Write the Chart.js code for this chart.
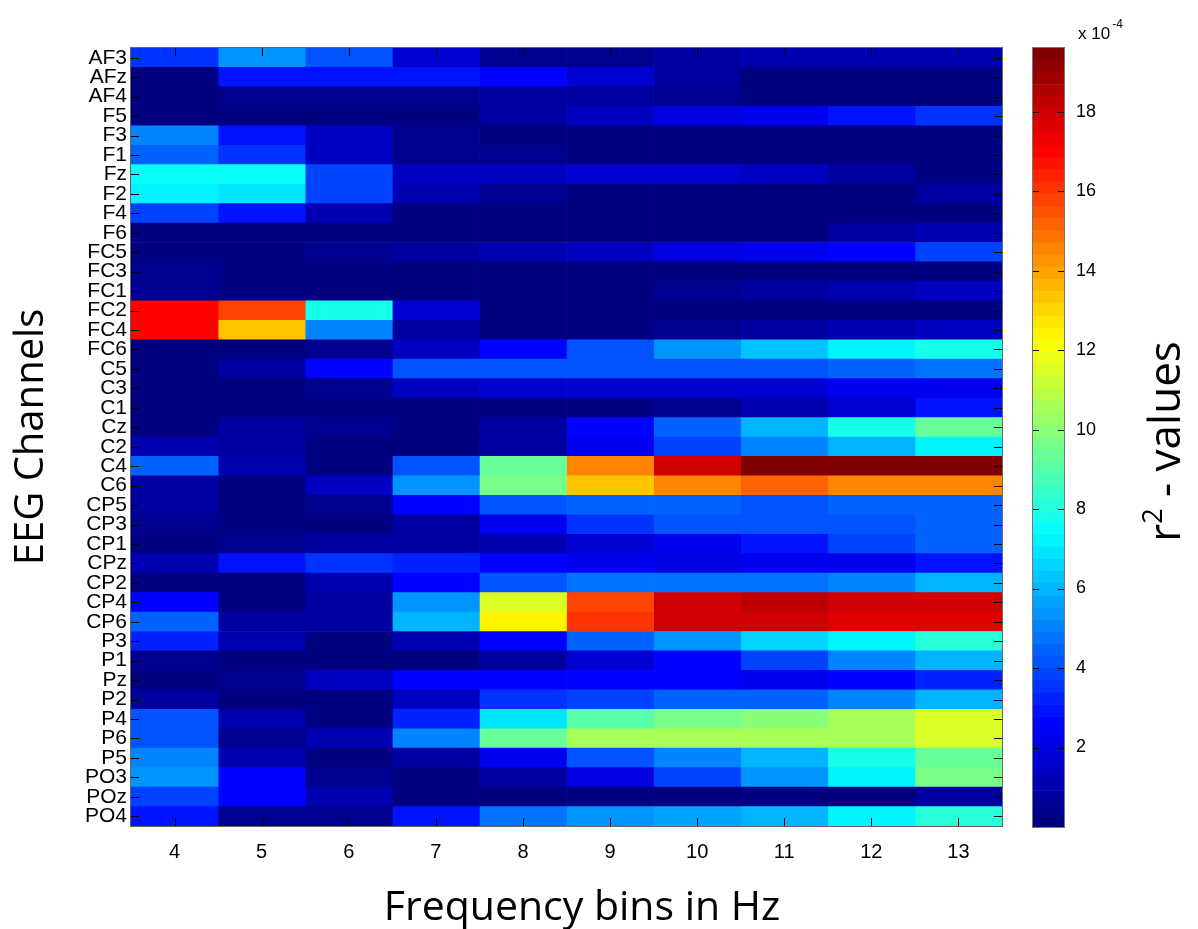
<!DOCTYPE html>
<html>
<head>
<meta charset="utf-8">
<script src="https://cdn.jsdelivr.net/npm/chart.js@4"></script>
<style>
  html, body { margin: 0; padding: 0; background: #fff; }
  #wrap { position: relative; width: 1198px; height: 929px; }
  #heatmap { position: absolute; left: 0; top: 0; }
  #colorbar { position: absolute; left: 1010px; top: 0; }
</style>
</head>
<body>
<div id="wrap">
  <canvas id="heatmap" width="1010" height="929"></canvas>
  <canvas id="colorbar" width="188" height="929"></canvas>
</div>
<script>
const channels = ['AF3', 'AFz', 'AF4', 'F5', 'F3', 'F1', 'Fz', 'F2', 'F4', 'F6',
  'FC5', 'FC3', 'FC1', 'FC2', 'FC4', 'FC6', 'C5', 'C3', 'C1', 'Cz',
  'C2', 'C4', 'C6', 'CP5', 'CP3', 'CP1', 'CPz', 'CP2', 'CP4', 'CP6',
  'P3', 'P1', 'Pz', 'P2', 'P4', 'P6', 'P5', 'PO3', 'POz', 'PO4'];
const freqBins = [4, 5, 6, 7, 8, 9, 10, 11, 12, 13];

// r^2 values (x 10^-4), one row per channel, one column per frequency bin
const r2Values = [
  [3.6, 5.3, 4.0, 1.6, 0.4, 0.4, 0.9, 1.1, 1.1, 1.0],   // AF3
  [0.2, 3.0, 3.0, 2.8, 2.6, 1.8, 0.9, 0.3, 0.3, 0.3],   // AFz
  [0.2, 0.6, 0.5, 0.5, 0.7, 0.7, 0.6, 0.2, 0.2, 0.2],   // AF4
  [0.2, 0.1, 0.1, 0.1, 0.8, 1.5, 2.0, 2.2, 2.8, 3.4],   // F5
  [4.9, 3.0, 1.5, 0.6, 0.2, 0.2, 0.2, 0.2, 0.2, 0.2],   // F3
  [4.5, 3.4, 1.4, 0.6, 0.5, 0.2, 0.2, 0.2, 0.2, 0.2],   // F1
  [7.6, 7.6, 3.7, 1.5, 1.5, 1.8, 1.8, 1.5, 0.7, 0.3],   // Fz
  [7.2, 6.9, 3.8, 1.2, 0.4, 0.2, 0.2, 0.2, 0.2, 0.7],   // F2
  [3.7, 2.9, 1.0, 0.15, 0.15, 0.15, 0.15, 0.15, 0.15, 0.15], // F4
  [0.1, 0.1, 0.1, 0.1, 0.1, 0.1, 0.1, 0.1, 0.7, 1.2],   // F6
  [0.1, 0.1, 0.4, 0.7, 1.0, 1.4, 1.9, 2.2, 2.6, 3.7],   // FC5
  [0.6, 0.15, 0.15, 0.15, 0.15, 0.15, 0.15, 0.15, 0.15, 0.15], // FC3
  [0.6, 0.2, 0.2, 0.2, 0.2, 0.2, 0.4, 0.7, 1.1, 1.5],   // FC1
  [16.9, 15.9, 7.95, 1.8, 0.1, 0.1, 0.1, 0.1, 0.1, 0.1], // FC2
  [16.9, 13.2, 4.9, 0.7, 0.15, 0.15, 0.4, 0.8, 1.2, 1.35], // FC4
  [0.15, 0.15, 0.6, 1.5, 2.75, 4.0, 5.5, 6.3, 7.1, 7.95], // FC6
  [0.15, 0.8, 2.75, 4.0, 4.0, 4.0, 4.0, 4.1, 4.45, 4.75], // C5
  [0.15, 0.15, 0.4, 1.4, 1.7, 1.7, 1.7, 1.8, 2.2, 2.2],  // C3
  [0.15, 0.15, 0.15, 0.15, 0.15, 0.15, 0.35, 1.0, 1.8, 3.0], // C1
  [0.15, 0.8, 0.6, 0.2, 0.7, 2.6, 4.45, 6.1, 7.8, 9.2],  // Cz
  [1.0, 0.8, 0.2, 0.2, 0.7, 2.2, 3.7, 4.9, 6.1, 7.2],    // C2
  [4.3, 1.0, 0.2, 4.1, 9.2, 14.4, 18.05, 19.5, 19.5, 19.5], // C4
  [0.8, 0.3, 1.5, 5.5, 9.5, 13.2, 14.7, 15.2, 14.7, 14.6], // C6
  [0.7, 0.3, 0.6, 2.75, 4.1, 4.45, 4.45, 4.1, 4.3, 4.45], // CP5
  [0.6, 0.25, 0.25, 0.8, 2.3, 3.5, 4.0, 4.0, 4.1, 4.3],  // CP3
  [0.3, 0.6, 0.7, 0.8, 1.1, 1.8, 2.3, 3.0, 3.7, 4.45],   // CP1
  [1.1, 2.9, 3.5, 3.2, 2.75, 2.3, 2.0, 2.3, 2.3, 3.0],   // CPz
  [0.3, 0.3, 1.0, 2.75, 4.1, 4.6, 4.6, 4.75, 5.2, 6.0],  // CP2
  [2.6, 0.3, 0.7, 5.5, 11.35, 15.9, 17.9, 18.1, 17.9, 17.9], // CP4
  [4.3, 0.8, 0.8, 6.1, 12.4, 16.2, 18.05, 17.9, 17.6, 17.75], // CP6
  [3.2, 1.0, 0.2, 1.0, 2.75, 4.45, 5.35, 6.45, 7.35, 8.2], // P3
  [0.6, 0.3, 0.3, 0.3, 0.7, 1.7, 2.75, 3.8, 5.2, 6.0],   // P1
  [0.3, 0.6, 1.5, 2.6, 2.6, 2.5, 2.5, 2.4, 2.5, 3.1],    // Pz
  [0.7, 0.3, 0.3, 1.5, 3.4, 3.8, 4.45, 4.45, 5.2, 6.1],  // P2
  [4.1, 1.0, 0.3, 3.2, 6.75, 8.9, 9.5, 10.0, 10.7, 11.6], // P4
  [4.1, 0.6, 1.0, 5.2, 9.2, 10.7, 10.7, 10.6, 10.7, 11.6], // P6
  [5.05, 1.1, 0.3, 0.8, 2.3, 4.0, 5.2, 6.1, 7.8, 9.2],   // P5
  [5.35, 2.75, 0.35, 0.25, 0.7, 2.0, 3.7, 5.35, 7.35, 9.5], // PO3
  [3.7, 2.75, 1.0, 0.2, 0.2, 0.2, 0.2, 0.2, 0.2, 0.8],   // POz
  [3.0, 0.35, 0.45, 3.0, 4.6, 5.5, 5.8, 6.1, 7.1, 8.2],  // PO4
];

const colorbarTicks = [2, 4, 6, 8, 10, 12, 14, 16, 18];
const cMin = 0;
const cMax = 19.6;
const nLevels = 64;

// matlab style jet colormap
function jet(t) {
  const c = (x) => Math.round(255 * Math.min(1, Math.max(0, x)));
  return 'rgb(' + c(1.5 - Math.abs(4 * t - 3)) + ',' + c(1.5 - Math.abs(4 * t - 2)) + ',' + c(1.5 - Math.abs(4 * t - 1)) + ')';
}

function levelColor(v) {
  let i = Math.floor(((v - cMin) / (cMax - cMin)) * nLevels);
  i = Math.max(0, Math.min(nLevels - 1, i));
  return jet(i / (nLevels - 1));
}

const TICK_LEN = 8;

const frameTicks = {
  id: 'frameTicks',
  afterDatasetsDraw(chart) {
    const { ctx, chartArea: a, scales } = chart;
    ctx.save();
    ctx.strokeStyle = '#000';
    ctx.lineWidth = 1;
    ctx.beginPath();
    scales.x.ticks.forEach((t) => {
      const x = Math.round(scales.x.getPixelForValue(t.value)) + 0.5;
      ctx.moveTo(x, a.top);
      ctx.lineTo(x, a.top + TICK_LEN);
      ctx.moveTo(x, a.bottom);
      ctx.lineTo(x, a.bottom - TICK_LEN);
    });
    channels.forEach((c, i) => {
      const y = Math.round(scales.y.getPixelForValue(i)) + 0.5;
      ctx.moveTo(a.left, y);
      ctx.lineTo(a.left + TICK_LEN, y);
      ctx.moveTo(a.right, y);
      ctx.lineTo(a.right - TICK_LEN, y);
    });
    ctx.stroke();
    ctx.strokeStyle = '#666';
    ctx.strokeRect(a.left - 0.5, a.top - 0.5, a.width + 1, a.height + 1);

    // x axis title, slightly right of the plot centre like the original
    ctx.fillStyle = '#000';
    ctx.font = '41px "Open Sans"';
    ctx.textAlign = 'center';
    ctx.textBaseline = 'alphabetic';
    ctx.fillText('Frequency bins in Hz', 582, 920);
    ctx.restore();
  },
};

const heatDatasets = freqBins.map((f, j) => ({
  data: channels.map(() => [f - 0.5, f + 0.5]),
  backgroundColor: channels.map((c, i) => levelColor(r2Values[i][j])),
  borderWidth: 0,
  barPercentage: 1,
  categoryPercentage: 1,
  grouped: false,
}));

const heatmapChart = new Chart(document.getElementById('heatmap'), {
  type: 'bar',
  data: { labels: channels, datasets: heatDatasets },
  options: {
    indexAxis: 'y',
    responsive: false,
    animation: false,
    layout: { padding: { top: 48, right: 8, left: 0, bottom: 0 } },
    plugins: { legend: { display: false }, tooltip: { enabled: false } },
    scales: {
      x: {
        type: 'linear',
        min: 3.5,
        max: 13.5,
        afterBuildTicks: (s) => {
          s.ticks = freqBins.map((v) => ({ value: v }));
        },
        grid: { display: false, drawTicks: false },
        border: { display: false },
        ticks: { padding: 14, color: '#000', font: { family: 'Liberation Sans', size: 20 } },
        afterFit: (s) => {
          s.height = 103;
        },
      },
      y: {
        type: 'category',
        grid: { display: false, drawTicks: false },
        border: { display: false },
        ticks: { padding: 4, autoSkip: false, color: '#000', font: { family: 'Liberation Sans', size: 21 } },
        title: {
          display: true,
          text: 'EEG Channels',
          color: '#000',
          font: { family: 'Open Sans', size: 40 },
          padding: { top: 8, bottom: 0 },
        },
        afterFit: (s) => {
          s.width = 131;
        },
      },
    },
  },
  plugins: [frameTicks],
});

// colorbar
const levelStep = (cMax - cMin) / nLevels;
const barDatasets = [];
for (let i = 0; i < nLevels; i++) {
  barDatasets.push({
    data: [[cMin + i * levelStep, cMin + (i + 1) * levelStep]],
    backgroundColor: jet(i / (nLevels - 1)),
    borderWidth: 0,
    barPercentage: 1,
    categoryPercentage: 1,
    grouped: false,
  });
}

const colorbarDecor = {
  id: 'colorbarDecor',
  afterDatasetsDraw(chart) {
    const { ctx, chartArea: a, scales } = chart;
    ctx.save();
    ctx.strokeStyle = '#000';
    ctx.lineWidth = 1;
    ctx.beginPath();
    scales.y.ticks.forEach((t) => {
      const y = Math.round(scales.y.getPixelForValue(t.value)) + 0.5;
      ctx.moveTo(a.left, y);
      ctx.lineTo(a.left + 6, y);
      ctx.moveTo(a.right, y);
      ctx.lineTo(a.right - 6, y);
    });
    ctx.stroke();
    ctx.strokeStyle = '#777';
    ctx.strokeRect(a.left - 0.5, a.top - 0.5, a.width + 1, a.height + 1);

    // exponent label
    ctx.fillStyle = '#000';
    ctx.textBaseline = 'alphabetic';
    ctx.font = '17px "Liberation Sans"';
    ctx.fillText('x 10', 68, 39);
    const w = ctx.measureText('x 10').width;
    ctx.font = '12px "Liberation Sans"';
    ctx.fillText('-4', 68 + w + 2, 28);

    // r^2 title, reads bottom to top
    ctx.translate(170, (a.top + a.bottom) / 2 + 4);
    ctx.rotate(-Math.PI / 2);
    ctx.font = '44px "Open Sans"';
    const wr = ctx.measureText('r').width;
    const wRest = ctx.measureText(' - values').width;
    ctx.font = '27px "Open Sans"';
    const w2 = ctx.measureText('2').width;
    let x = -(wr + w2 + wRest) / 2;
    ctx.font = '44px "Open Sans"';
    ctx.fillText('r', x, 0);
    x += wr;
    ctx.font = '27px "Open Sans"';
    ctx.fillText('2', x, -18);
    x += w2;
    ctx.font = '44px "Open Sans"';
    ctx.fillText(' - values', x, 0);
    ctx.restore();
  },
};

const colorbarChart = new Chart(document.getElementById('colorbar'), {
  type: 'bar',
  data: { labels: [''], datasets: barDatasets },
  options: {
    responsive: false,
    animation: false,
    layout: { padding: { top: 48, right: 0, left: 23, bottom: 102 } },
    plugins: { legend: { display: false }, tooltip: { enabled: false } },
    scales: {
      x: { display: false },
      y: {
        position: 'right',
        min: cMin,
        max: cMax,
        afterBuildTicks: (s) => {
          s.ticks = colorbarTicks.map((v) => ({ value: v }));
        },
        grid: { display: false, drawTicks: false },
        border: { display: false },
        ticks: { padding: 12, color: '#000', font: { family: 'Liberation Sans', size: 18 } },
        afterFit: (s) => {
          s.width = 134;
        },
      },
    },
  },
  plugins: [colorbarDecor],
});
</script>
</body>
</html>
